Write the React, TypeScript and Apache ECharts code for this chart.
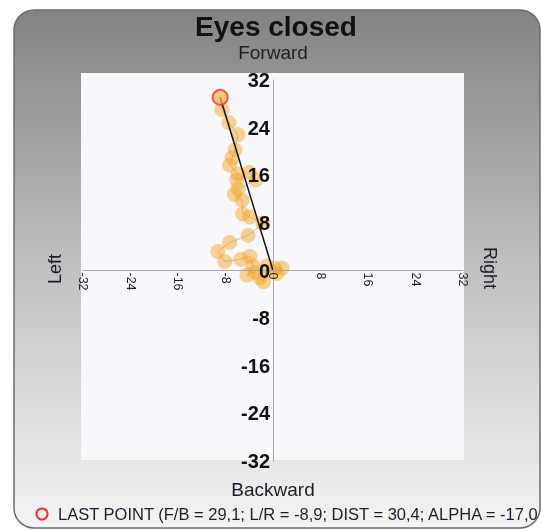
import React, { useEffect, useRef } from "react";
import * as echarts from "echarts";

const chartTitle = "Eyes closed";
const forwardLabel = "Forward";
const backwardLabel = "Backward";
const leftLabel = "Left";
const rightLabel = "Right";

const axisMin = -32;
const axisMax = 32;
const axisStep = 8;

// Sway trail, in time order (Left/Right = x, Forward/Backward = y)
const lrValues = [0.3, 1.5, 0.7, -1.0, -1.6, -2.2, -3.0, -4.4, -3.4, -3.9, -5.4, -8.1, -9.3, -7.3, -4.2, -1.7, -3.9, -5.1, -5.2, -6.5, -5.9, -2.9, -4.0, -6.1, -5.9, -7.3, -6.9, -6.4, -5.9, -7.4, -8.6];
const fbValues = [0.3, 0.4, -0.5, 0.8, -1.9, -1.2, -0.3, -0.8, 0.8, 2.4, 1.9, 1.5, 3.2, 4.7, 5.9, 7.9, 9.0, 9.5, 11.8, 12.8, 13.7, 15.2, 16.5, 15.2, 16.2, 17.7, 18.9, 20.3, 22.8, 24.8, 27.0];

const lastFB = 29.1;
const lastLR = -8.9;
const lastDist = 30.4;
const lastAlpha = -17.0;

const fmt = (v: number) => v.toFixed(1).replace(".", ",");
const legendText = `LAST POINT (F/B = ${fmt(lastFB)}; L/R = ${fmt(lastLR)}; DIST = ${fmt(lastDist)}; ALPHA = ${fmt(lastAlpha)}`;

const FONT = "'Liberation Sans', Arial, sans-serif";

const GRID_LEFT = 83;
const GRID_TOP = 80;
const GRID_W = 380;
const GRID_H = 381;

export default function App() {
  const ref = useRef<HTMLDivElement>(null);

  useEffect(() => {
    if (!ref.current) return;
    const chart = echarts.init(ref.current, undefined, { renderer: "svg" });
    const trail = lrValues.map((x, i) => [x, fbValues[i]]);
    const fullTrail = [...trail, [lastLR, lastFB]];

    chart.setOption({
      animation: false,
      grid: { left: GRID_LEFT, top: GRID_TOP, width: GRID_W, height: GRID_H, containLabel: false },
      xAxis: {
        type: "value",
        min: axisMin,
        max: axisMax,
        interval: axisStep,
        position: "bottom",
        offset: -GRID_H / 2,
        z: 10,
        splitLine: { show: false },
        axisTick: { show: false },
        axisLine: { onZero: false, lineStyle: { color: "#a8a8a8", width: 1 } },
        axisLabel: {
          rotate: -90,
          fontSize: 12.5,
          fontFamily: FONT,
          color: "#1c1c30",
          margin: 2,
          showMinLabel: true,
          showMaxLabel: true,
        },
      },
      yAxis: {
        type: "value",
        min: axisMin,
        max: axisMax,
        interval: axisStep,
        position: "left",
        offset: -GRID_W / 2,
        z: 10,
        splitLine: { show: false },
        axisTick: { show: false },
        axisLine: { onZero: false, lineStyle: { color: "#a8a8a8", width: 1 } },
        axisLabel: {
          fontSize: 20,
          fontWeight: "bold",
          fontFamily: FONT,
          color: "#111",
          margin: 3,
          showMinLabel: true,
          showMaxLabel: true,
        },
      },
      graphic: [
        {
          type: "rect",
          z: -20,
          shape: { x: 14, y: 10, width: 526, height: 518, r: 20 },
          style: {
            fill: new echarts.graphic.LinearGradient(0, 0, 0, 1, [
              { offset: 0, color: "#838383" },
              { offset: 0.5, color: "#c0c0c0" },
              { offset: 1, color: "#f4f4f4" },
            ]),
            stroke: "#6c6c6c",
            lineWidth: 1.5,
          },
        },
        {
          type: "rect",
          z: -10,
          shape: { x: 81, y: 73, width: 383, height: 387 },
          style: { fill: "#f7f7fc" },
        },
        {
          type: "text",
          x: 276,
          y: 26,
          style: {
            text: chartTitle,
            font: `bold 28px ${FONT}`,
            fill: "#111",
            textAlign: "center",
            textVerticalAlign: "middle",
          },
        },
        {
          type: "text",
          x: 273,
          y: 52,
          style: {
            text: forwardLabel,
            font: `19px ${FONT}`,
            fill: "#1c1c2c",
            textAlign: "center",
            textVerticalAlign: "middle",
          },
        },
        {
          type: "text",
          x: 273,
          y: 489,
          style: {
            text: backwardLabel,
            font: `19px ${FONT}`,
            fill: "#1c1c2c",
            textAlign: "center",
            textVerticalAlign: "middle",
          },
        },
        {
          type: "text",
          x: 55,
          y: 269,
          rotation: Math.PI / 2,
          style: {
            text: leftLabel,
            font: `18px ${FONT}`,
            fill: "#1c1c2c",
            textAlign: "center",
            textVerticalAlign: "middle",
          },
        },
        {
          type: "text",
          x: 490,
          y: 268,
          rotation: -Math.PI / 2,
          style: {
            text: rightLabel,
            font: `18px ${FONT}`,
            fill: "#1c1c2c",
            textAlign: "center",
            textVerticalAlign: "middle",
          },
        },
        {
          type: "circle",
          shape: { cx: 42, cy: 514, r: 5.5 },
          style: { fill: "none", stroke: "#ff2a2a", lineWidth: 2 },
        },
        {
          type: "text",
          x: 58,
          y: 514,
          style: {
            text: legendText,
            font: `16.5px ${FONT}`,
            fill: "#1c1c2c",
            textAlign: "left",
            textVerticalAlign: "middle",
          },
        },
      ],
      series: [
        {
          type: "line",
          data: fullTrail,
          symbol: "none",
          z: 2,
          lineStyle: { color: "#c0c0c0", width: 1 },
          silent: true,
        },
        {
          type: "scatter",
          data: trail,
          symbolSize: 15,
          z: 3,
          itemStyle: { color: "rgba(245,165,35,0.6)" },
        },
        {
          type: "line",
          data: [[lastLR, lastFB], [0, 0]],
          symbol: "none",
          z: 4,
          lineStyle: { color: "#111", width: 1.5 },
        },
        {
          type: "scatter",
          data: [[lastLR, lastFB]],
          symbolSize: 15,
          z: 5,
          itemStyle: {
            color: "rgba(248,180,80,0.9)",
            borderColor: "#ff2a2a",
            borderWidth: 2,
          },
        },
      ],
    });
    return () => chart.dispose();
  }, []);

  return (
    <div
      ref={ref}
      style={{ position: "fixed", left: 0, top: 0, width: 541, height: 531 }}
    />
  );
}
